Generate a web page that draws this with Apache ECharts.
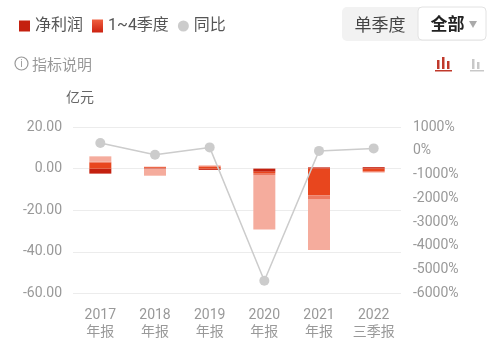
<!DOCTYPE html>
<html><head><meta charset="utf-8">
<script src="https://cdn.jsdelivr.net/npm/echarts@6/dist/echarts.min.js"></script>
<style>html,body{margin:0;padding:0;background:#fff;}#c{width:500px;height:355px;}</style>
</head><body><div id="c"></div>
<script>
var categories = ['2017\n年报', '2018\n年报', '2019\n年报', '2020\n年报', '2021\n年报', '2022\n三季报'];
var q1 = [-2.4, 0.3, -0.6, -1.5, 0.6, 0.7];
var q2 = [3.0, 0.4, 1.0, -0.6, -12.8, -1.2];
var q3 = [0.3, 0.2, 0.3, -1.0, -2.1, -0.6];
var q4 = [2.6, -3.4, 0.3, -26.2, -24.2, null];
var yoy = [328, -164, 143, -5465, -5, 100];
var leftTicks = { min: -60, max: 20, interval: 20 };
var rightTicks = { min: -6000, max: 1000, interval: 1000 };

var FONT = "Roboto, 'Noto Sans CJK SC', sans-serif";
var CJK = "'Noto Sans CJK SC', sans-serif";
var colors = ['#c4200f', '#e8461e', '#ee7a62', '#f5ac9d'];

var chart = echarts.init(document.getElementById('c'), null, { renderer: 'canvas' });

function barSeries(name, data, color) {
  return {
    name: name, type: 'bar', stack: 'q', data: data, barWidth: 22,
    itemStyle: { color: color }, yAxisIndex: 0, silent: true
  };
}

chart.setOption({
  animation: false,
  grid: { left: 73, right: 99, top: 127, bottom: 61.5 },
  legend: {
    left: 14, top: 13, itemWidth: 11, itemHeight: 13, itemGap: 9,
    symbolKeepAspect: true,
    textStyle: { fontFamily: FONT, fontSize: 16, color: '#555' },
    selectedMode: false,
    data: [
      { name: '净利润', icon: 'path://M0,0h10v10h-10z', itemStyle: { color: '#c4200f' } },
      { name: '1~4季度', icon: 'path://M0,0h11v13h-11z', itemStyle: { color: new echarts.graphic.LinearGradient(0, 0, 0, 1, [{ offset: 0, color: '#f06040' }, { offset: 1, color: '#cc2210' }]) } },
      { name: '同比', icon: 'circle', itemStyle: { color: '#cccccc' } }
    ]
  },
  xAxis: {
    type: 'category', data: categories, boundaryGap: true,
    axisLine: { show: false }, axisTick: { show: false },
    axisLabel: { color: '#999', fontSize: 14, lineHeight: 17, margin: 13, fontFamily: FONT }
  },
  yAxis: [
    {
      type: 'value', min: leftTicks.min, max: leftTicks.max, interval: leftTicks.interval,
      axisLine: { show: false }, axisTick: { show: false },
      axisLabel: { color: '#999', fontSize: 14, margin: 11, fontFamily: FONT, formatter: function (v) { return v.toFixed(2); } },
      splitLine: { lineStyle: { color: '#ececec', width: 1 } }
    },
    {
      type: 'value', min: rightTicks.min, max: rightTicks.max, interval: rightTicks.interval,
      axisLine: { show: false }, axisTick: { show: false },
      axisLabel: { color: '#999', fontSize: 14, margin: 12, fontFamily: FONT, formatter: function (v) { return v + '%'; } },
      splitLine: { show: false }
    }
  ],
  series: [
    barSeries('净利润', q1, colors[0]),
    barSeries('1~4季度', q2, colors[1]),
    barSeries('1~4季度', q3, colors[2]),
    barSeries('1~4季度', q4, colors[3]),
    {
      name: '同比', type: 'line', yAxisIndex: 1, data: yoy,
      symbol: 'circle', symbolSize: 10,
      itemStyle: { color: '#cccccc' },
      lineStyle: { color: '#cccccc', width: 1.5 },
      z: 5
    }
  ],
  graphic: [
    { type: 'rect', shape: { x: 342, y: 7, width: 144, height: 34, r: 5 }, style: { fill: '#f2f2f2' } },
    { type: 'rect', shape: { x: 418, y: 7, width: 68, height: 33, r: 4 }, style: { fill: '#fff', stroke: '#e2e2e2', lineWidth: 1 } },
    { type: 'text', x: 380, y: 24.5, style: { text: '单季度', font: '17px ' + CJK, fill: '#444', align: 'center', verticalAlign: 'middle' } },
    { type: 'text', x: 447.5, y: 24, style: { text: '全部', font: 'bold 17px ' + CJK, fill: '#222', align: 'center', verticalAlign: 'middle' } },
    { type: 'polygon', shape: { points: [[469, 21], [477, 21], [473, 28]] }, style: { fill: '#aaa' } },
    { type: 'circle', shape: { cx: 21.5, cy: 63.5, r: 6.5 }, style: { fill: 'none', stroke: '#999', lineWidth: 1.2 } },
    { type: 'text', x: 21.5, y: 64, style: { text: 'i', font: '10px ' + FONT, fill: '#999', align: 'center', verticalAlign: 'middle' } },
    { type: 'text', x: 32, y: 64, style: { text: '指标说明', font: '15px ' + CJK, fill: '#999', align: 'left', verticalAlign: 'middle' } },
    { type: 'text', x: 66, y: 97, style: { text: '亿元', font: '14px ' + CJK, fill: '#666', align: 'left', verticalAlign: 'middle' } },
    // chart type icons
    { type: 'rect', shape: { x: 437, y: 60, width: 2.5, height: 9 }, style: { fill: '#c0392b' } },
    { type: 'rect', shape: { x: 442, y: 57, width: 2.5, height: 12 }, style: { fill: '#c0392b' } },
    { type: 'rect', shape: { x: 447, y: 61, width: 2.5, height: 8 }, style: { fill: '#c0392b' } },
    { type: 'rect', shape: { x: 435, y: 70, width: 17, height: 1.5 }, style: { fill: '#c0392b' } },
    { type: 'rect', shape: { x: 472, y: 59, width: 2.5, height: 10 }, style: { fill: '#c8c8c8' } },
    { type: 'rect', shape: { x: 477, y: 62, width: 2.5, height: 7 }, style: { fill: '#c8c8c8' } },
    { type: 'rect', shape: { x: 470, y: 70, width: 14, height: 1.5 }, style: { fill: '#c8c8c8' } }
  ]
});
</script></body></html>
